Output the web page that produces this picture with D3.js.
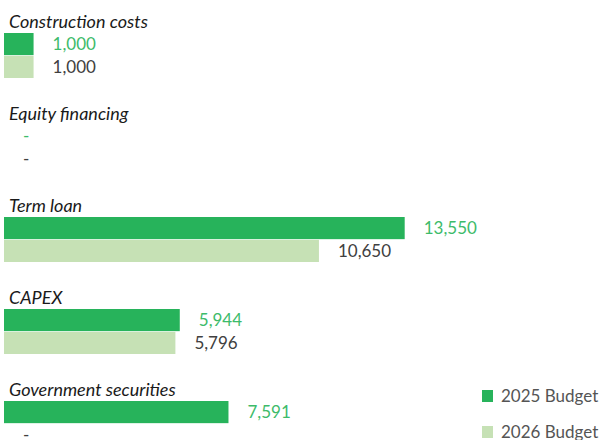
<!DOCTYPE html>
<html>
<head>
<meta charset="utf-8">
<script src="https://cdn.jsdelivr.net/npm/d3@7"></script>
<style>
  body { margin: 0; background: #fff; }
  text { font-family: Lato, "Open Sans", sans-serif; }
</style>
</head>
<body>
<svg id="chart" width="601" height="440"></svg>
<script>
// data
var categories = ["Construction costs", "Equity financing", "Term loan", "CAPEX", "Government securities"];
var seriesNames = ["2025 Budget", "2026 Budget"];
var budget2025 = [1000, 0, 13550, 5944, 7591];
var budget2026 = [1000, 0, 10650, 5796, 0];

var barColors = ["#27b35b", "#c6e1b5"];
var labelColors = ["#3dbb6a", "#404040"];

var svg = d3.select("#chart");

var x = d3.scaleLinear().domain([0, 14000]).range([4, 418]);
var y = d3.scaleBand().domain(categories).range([33, 33 + categories.length * 92]);
var ySub = d3.scaleBand().domain(seriesNames).range([0, 45]).paddingInner(0.03);

var fmt = function(v){ return v === 0 ? "-" : d3.format(",")(v); };

var rows = categories.map(function(c, i){
  return { cat: c, vals: [budget2025[i], budget2026[i]] };
});

var g = svg.selectAll(".grp").data(rows).enter().append("g")
  .attr("class", "grp")
  .attr("transform", function(d){ return "translate(0," + y(d.cat) + ")"; });

g.append("text")
  .attr("x", 9)
  .attr("y", -5)
  .attr("font-size", 18)
  .attr("font-style", "italic")
  .attr("fill", "#1a1a1a")
  .text(function(d){ return d.cat; });

var bars = g.selectAll(".bar").data(function(d){
  return d.vals.map(function(v, j){ return { v: v, s: seriesNames[j], j: j }; });
}).enter();

bars.append("rect")
  .attr("x", x(0))
  .attr("y", function(d){ return ySub(d.s); })
  .attr("width", function(d){ return x(d.v) - x(0); })
  .attr("height", ySub.bandwidth())
  .attr("fill", function(d){ return barColors[d.j]; });

bars.append("text")
  .attr("x", function(d){ return x(d.v) + 19; })
  .attr("y", function(d){ return ySub(d.s) + ySub.bandwidth() / 2 + 6; })
  .attr("font-size", 17)
  .attr("fill", function(d){ return labelColors[d.j]; })
  .text(function(d){ return fmt(d.v); });

// legend
var leg = svg.selectAll(".leg").data(seriesNames).enter().append("g")
  .attr("class", "leg")
  .attr("transform", function(d, i){ return "translate(482," + (390 + i * 36) + ")"; });
leg.append("rect").attr("width", 11).attr("height", 12)
  .attr("fill", function(d, i){ return barColors[i]; });
leg.append("text").attr("x", 19).attr("y", 12).attr("font-size", 17)
  .attr("fill", "#555").text(function(d){ return d; });
</script>
</body>
</html>
